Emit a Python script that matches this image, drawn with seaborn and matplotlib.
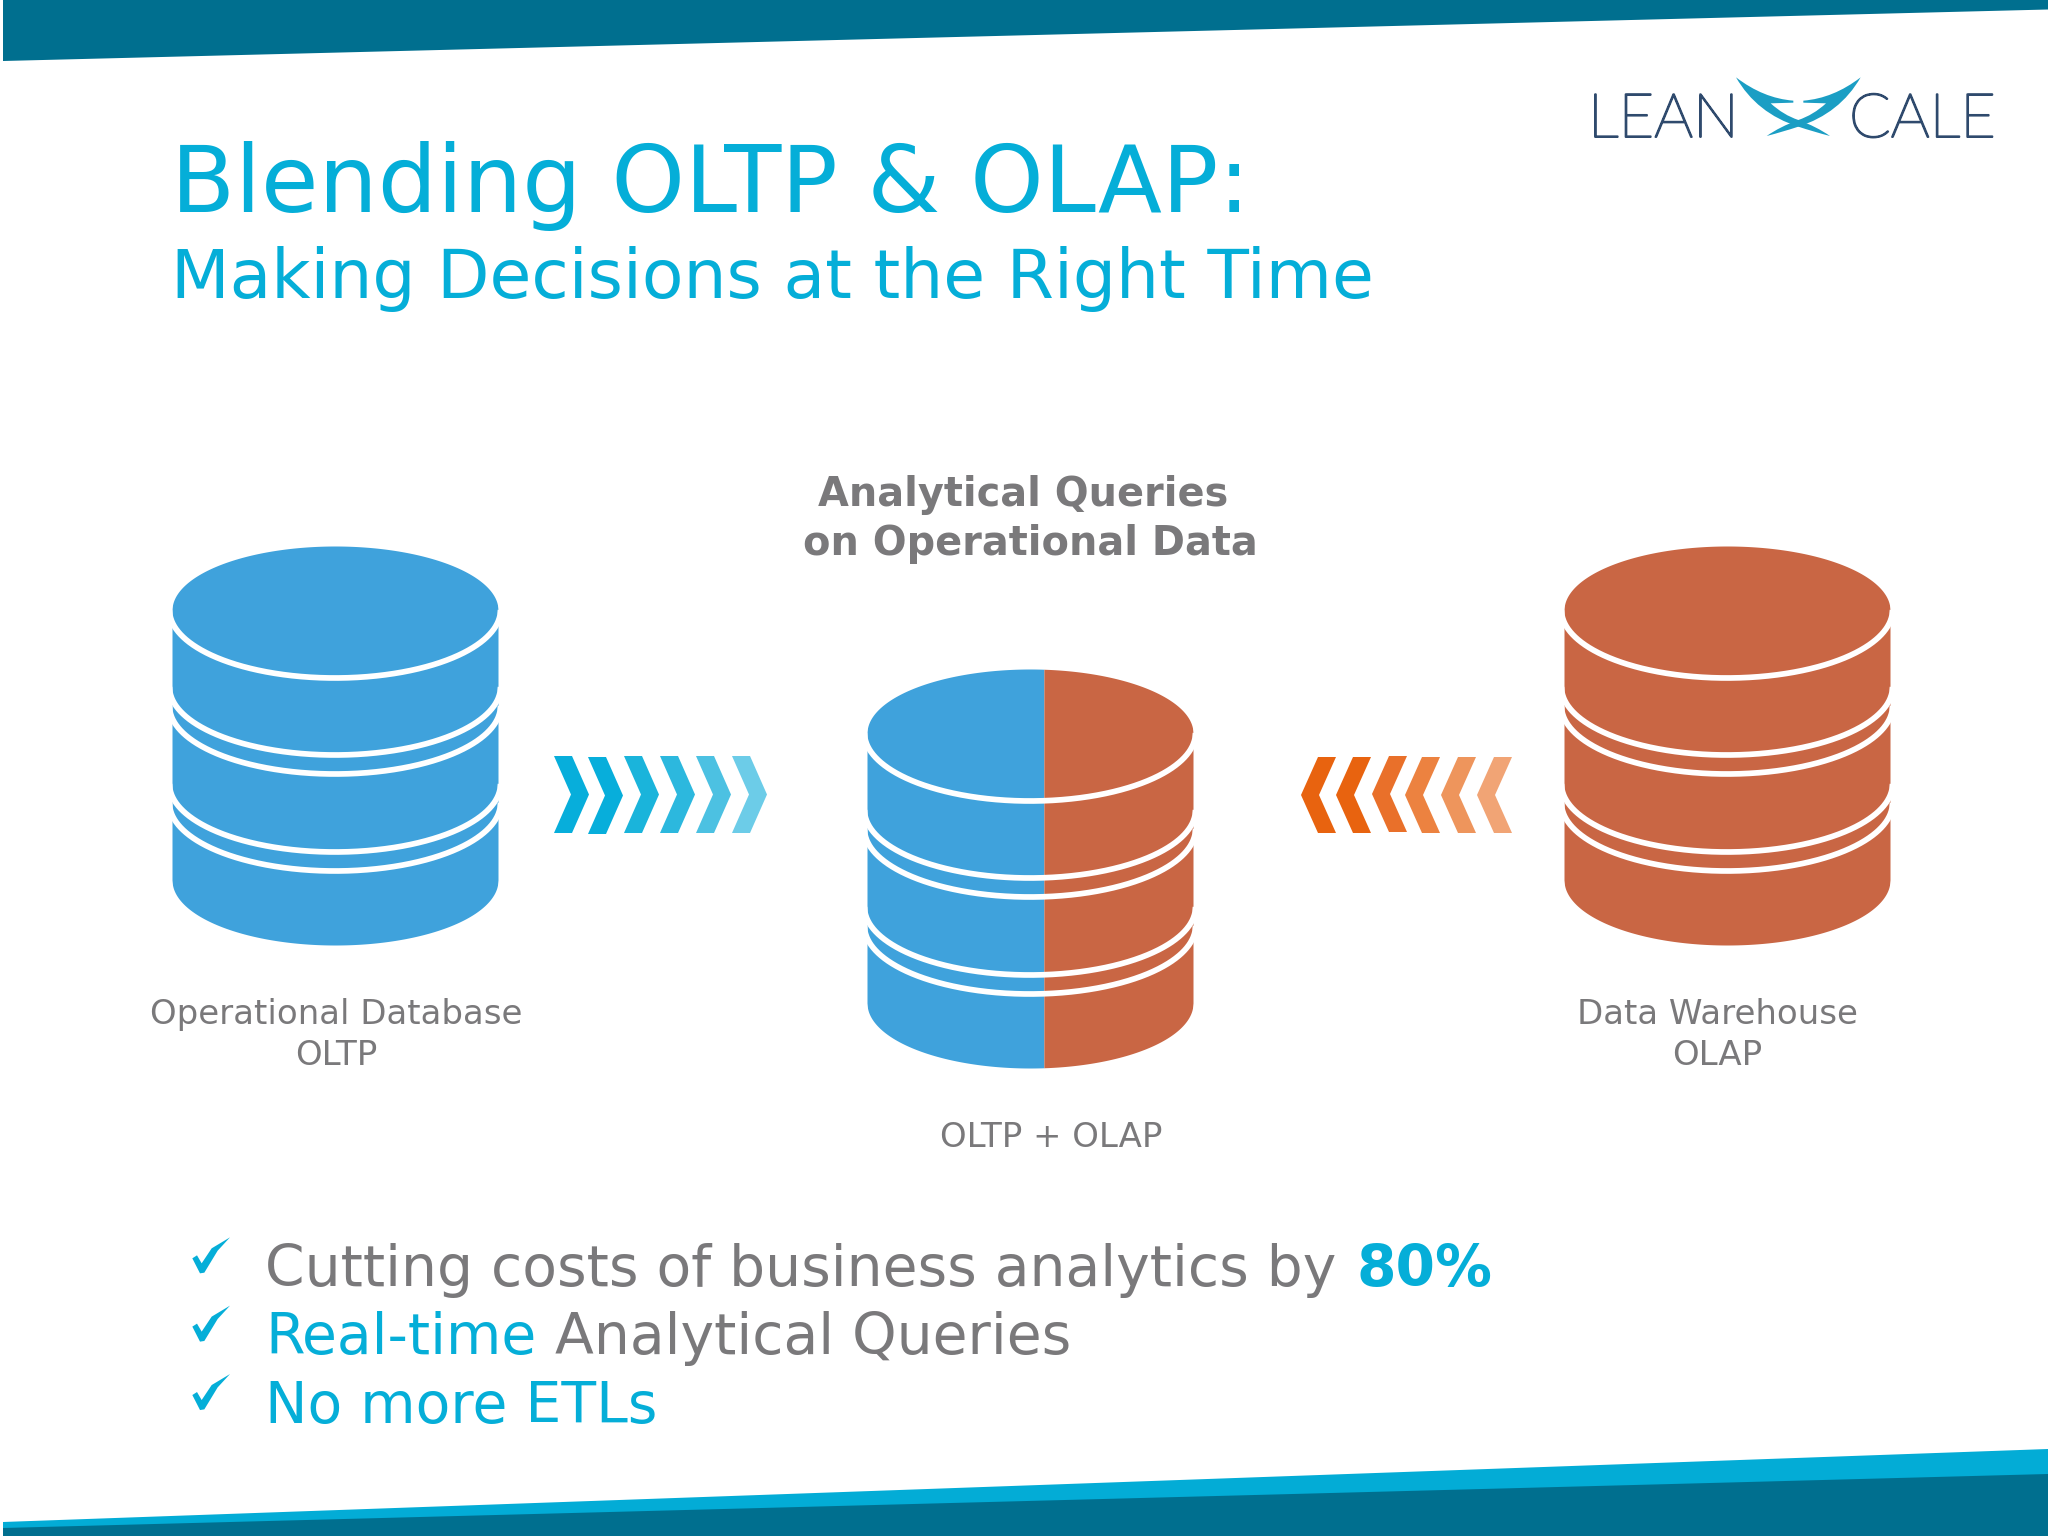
import numpy as np
import matplotlib.pyplot as plt
import matplotlib.patheffects as pe
from matplotlib.path import Path
from matplotlib.patches import PathPatch
import seaborn as sns

sns.set_theme(style='white')
plt.rcParams['font.family'] = ['DejaVu Sans']

#Text content
title_main = 'Blending OLTP & OLAP:'
title_sub = 'Making Decisions at the Right Time'
center_head = ['Analytical Queries', 'on Operational Data']
left_label = ['Operational Database', 'OLTP']
right_label = ['Data Warehouse', 'OLAP']
center_label = 'OLTP + OLAP'

#Colours
teal_dark = '#006f8f'
teal_light = '#03acd6'
accent = '#05aed8'
grey = '#7a797b'
db_blue = '#3fa2dc'
db_orange = '#c96644'
logo_navy = '#2f4a6d'
logo_teal = '#1b9ec4'
blue_chevrons = ['#07aedb', '#07aedb', '#1ab4db', '#2cb8de', '#4cc1e2', '#6ccce8']
orange_chevrons = ['#e8630f', '#e8630f', '#e9702a', '#ec8240', '#ee955c', '#f1a475']

#Figure in pixel coordinates
fig = plt.figure(figsize=(20.48, 15.36), dpi=100)
ax = fig.add_axes([0, 0, 1, 1])
ax.set_xlim(0, 2048)
ax.set_ylim(1536, 0)
ax.axis('off')

#Slanted bands
ax.fill([3, 2048, 2048, 3], [0, 0, 9.5, 61], color=teal_dark, lw=0)
ax.fill([3, 2048, 2048, 3], [1522, 1449, 1536, 1536], color=teal_light, lw=0)
ax.fill([3, 1748, 2048, 2048, 3], [1528, 1482, 1474, 1536, 1536], color=teal_dark, lw=0)


#Database cylinder, split gives the x where the colour changes
def draw_db(cx, top, left_col, right_col, split=None):
    rx, ry = 163, 64
    if split is None:
        split = cx + rx
    xs = np.linspace(cx - rx, cx + rx, 600)
    root = np.sqrt(np.clip(1 - ((xs - cx) / rx) ** 2, 0, 1))
    upper = top + ry - ry * root
    lower = top + 334 + (ry + 1) * root
    m = xs <= split
    ax.fill_between(xs[m], upper[m], lower[m], color=left_col, lw=0)
    if (~m).any():
        k = max(np.argmax(~m) - 1, 0)
        ax.fill_between(xs[k:], upper[k:], lower[k:], color=right_col, lw=0)

    #white rings
    ring_x = np.linspace(cx - 165.5, cx + 165.5, 600)
    ring_y = np.sqrt(np.clip(1 - ((ring_x - cx) / 165.5) ** 2, 0, 1))
    for off in [64, 141, 160, 238, 257]:
        ax.plot(ring_x, top + off + 68 * ring_y, color='white', lw=4.1, solid_capstyle='butt')


draw_db(335, 546, db_blue, db_blue)
draw_db(1030, 669, db_blue, db_orange, split=1044)
draw_db(1727, 546, db_orange, db_orange)


#Chevrons
def chevron(x, y_top, y_bot, col, flip=False):
    mid = (y_top + y_bot) / 2
    if flip:
        ax.fill([x, x + 17, x + 35, x + 18, x + 35, x + 17],
                [mid, y_top, y_top, mid, y_bot, y_bot], color=col, lw=0)
    else:
        ax.fill([x, x + 18, x + 35, x + 18, x, x + 17],
                [y_top, y_top, mid, y_bot, y_bot, mid], color=col, lw=0)


for x, col, dy in zip([554, 588, 624, 660, 696, 732], blue_chevrons, [0, 1, 0, 0, 0, 0]):
    chevron(x, 756 + dy, 833 + dy, col)
for x, col, dy in zip([1301, 1336, 1372, 1405, 1441, 1477], orange_chevrons, [0, 0, -1, 0, 0, 0]):
    chevron(x, 757 + dy, 833 + dy, col, flip=True)

#Title
ax.text(171, 212, title_main, color=accent, fontsize=67.3, va='baseline')
ax.text(171, 298, title_sub, color=accent, fontsize=49, va='baseline')

#Labels
ax.text(1023, 506, center_head[0], color=grey, fontsize=28.7, fontweight='bold', ha='center', va='baseline')
ax.text(1030, 555, center_head[1], color=grey, fontsize=28.7, fontweight='bold', ha='center', va='baseline')
ax.text(336, 1024, left_label[0], color=grey, fontsize=24.5, ha='center', va='baseline')
ax.text(336, 1065, left_label[1], color=grey, fontsize=24.5, ha='center', va='baseline')
ax.text(1717, 1024, right_label[0], color=grey, fontsize=24.5, ha='center', va='baseline')
ax.text(1717, 1065, right_label[1], color=grey, fontsize=24.5, ha='center', va='baseline')
ax.text(1051, 1147, center_label, color=grey, fontsize=24.5, ha='center', va='baseline')

#Bullets
ax.text(265, 1286, 'Cutting costs of business analytics by', color=grey, fontsize=40.9, va='baseline')
ax.text(1357, 1286, '80%', color=accent, fontsize=40.9, fontweight='bold', va='baseline')
ax.text(265, 1354, 'Real-time', color=accent, fontsize=40.9, va='baseline')
ax.text(555, 1354, 'Analytical Queries', color=grey, fontsize=40.9, va='baseline')
ax.text(265, 1423, 'No more ETLs', color=accent, fontsize=40.9, va='baseline')

#Check marks
check_x = np.array([22, 36, 50, 80, 135, 98, 58, 45]) / 3 + 185
check_y = np.array([85, 76, 100, 55, 22, 62, 128, 130]) / 3 + 1230
for off in [0, 68.3, 136.7]:
    ax.fill(check_x, check_y + off, color=accent, lw=0)

#Logo
thicken = [pe.withStroke(linewidth=1.4, foreground=logo_navy)]
for x, word in zip([1588, 1849], ['LEAN', 'CALE']):
    ax.text(x, 137, word, color=logo_navy, fontsize=44, family='Lato', fontweight='light',
            va='baseline', path_effects=thicken)


def wing(mirror=False):
    pts = [(18, 22), (100, 85), (190, 92), (190, 98), (122, 100), (160, 135), (205, 150),
           (260, 170), (300, 198), (250, 185), (205, 170), (80, 130), (18, 22)]
    codes = [Path.MOVETO, Path.CURVE3, Path.CURVE3, Path.LINETO, Path.LINETO, Path.CURVE3, Path.CURVE3,
             Path.CURVE3, Path.CURVE3, Path.CURVE3, Path.CURVE3, Path.CURVE3, Path.CURVE3]
    pts = np.array(pts, dtype=float)
    if mirror:
        pts[:, 0] = 410 - pts[:, 0]
    pts = pts / 3 + [1730, 70]
    ax.add_patch(PathPatch(Path(pts, codes), facecolor=logo_teal, edgecolor='none'))


wing()
wing(mirror=True)

fig.savefig('out.png', dpi=100, facecolor='white')
